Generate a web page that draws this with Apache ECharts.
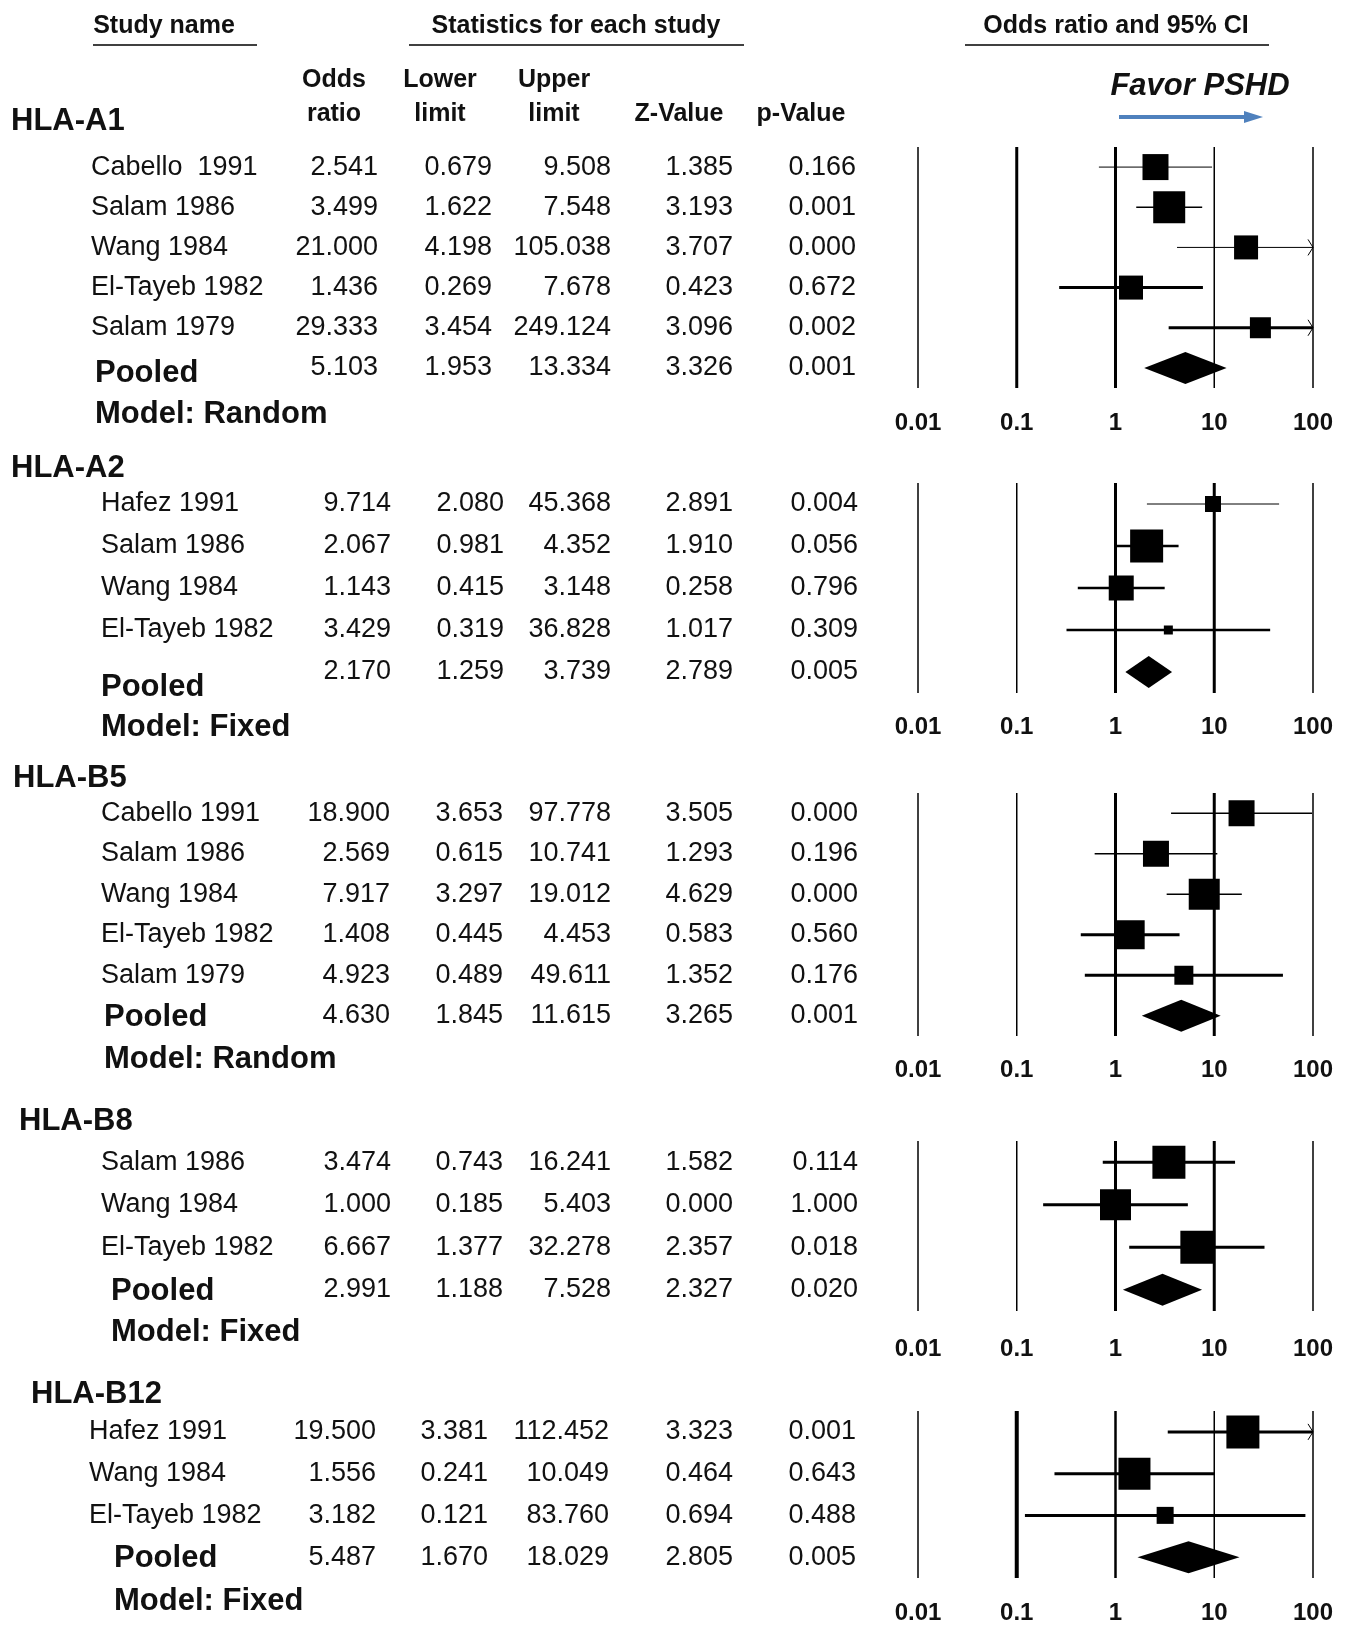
<!DOCTYPE html>
<html><head><meta charset="utf-8">
<script src="https://cdn.jsdelivr.net/npm/echarts@6/dist/echarts.min.js"></script>
<style>html,body{margin:0;padding:0;background:#fff}#c{width:1348px;height:1625px}</style>
</head><body><div id="c"></div>
<script>
// ---------------- DATA ----------------
const groupNames = ['HLA-A1', 'HLA-A2', 'HLA-B5', 'HLA-B8', 'HLA-B12'];
const modelNames = ['Model: Random', 'Model: Fixed', 'Model: Random', 'Model: Fixed', 'Model: Fixed'];

const studiesA1 = ['Cabello  1991', 'Salam 1986', 'Wang 1984', 'El-Tayeb 1982', 'Salam 1979'];
const orA1 = [2.541, 3.499, 21.000, 1.436, 29.333];
const loA1 = [0.679, 1.622, 4.198, 0.269, 3.454];
const hiA1 = [9.508, 7.548, 105.038, 7.678, 249.124];
const zA1  = [1.385, 3.193, 3.707, 0.423, 3.096];
const pA1  = [0.166, 0.001, 0.000, 0.672, 0.002];

const studiesA2 = ['Hafez 1991', 'Salam 1986', 'Wang 1984', 'El-Tayeb 1982'];
const orA2 = [9.714, 2.067, 1.143, 3.429];
const loA2 = [2.080, 0.981, 0.415, 0.319];
const hiA2 = [45.368, 4.352, 3.148, 36.828];
const zA2  = [2.891, 1.910, 0.258, 1.017];
const pA2  = [0.004, 0.056, 0.796, 0.309];

const studiesB5 = ['Cabello 1991', 'Salam 1986', 'Wang 1984', 'El-Tayeb 1982', 'Salam 1979'];
const orB5 = [18.900, 2.569, 7.917, 1.408, 4.923];
const loB5 = [3.653, 0.615, 3.297, 0.445, 0.489];
const hiB5 = [97.778, 10.741, 19.012, 4.453, 49.611];
const zB5  = [3.505, 1.293, 4.629, 0.583, 1.352];
const pB5  = [0.000, 0.196, 0.000, 0.560, 0.176];

const studiesB8 = ['Salam 1986', 'Wang 1984', 'El-Tayeb 1982'];
const orB8 = [3.474, 1.000, 6.667];
const loB8 = [0.743, 0.185, 1.377];
const hiB8 = [16.241, 5.403, 32.278];
const zB8  = [1.582, 0.000, 2.357];
const pB8  = [0.114, 1.000, 0.018];

const studiesB12 = ['Hafez 1991', 'Wang 1984', 'El-Tayeb 1982'];
const orB12 = [19.500, 1.556, 3.182];
const loB12 = [3.381, 0.241, 0.121];
const hiB12 = [112.452, 10.049, 83.760];
const zB12  = [3.323, 0.464, 0.694];
const pB12  = [0.001, 0.643, 0.488];

const pooledOR = [5.103, 2.170, 4.630, 2.991, 5.487];
const pooledLo = [1.953, 1.259, 1.845, 1.188, 1.670];
const pooledHi = [13.334, 3.739, 11.615, 7.528, 18.029];
const pooledZ  = [3.326, 2.789, 3.265, 2.327, 2.805];
const pooledP  = [0.001, 0.005, 0.001, 0.020, 0.005];

const tickValues = [0.01, 0.1, 1, 10, 100];
const tickLabels = ['0.01', '0.1', '1', '10', '100'];

// ---------------- LAYOUT / STYLE ----------------
const FONT = '"Liberation Sans", Arial, Helvetica, sans-serif';
const panels = [
  {names: studiesA1, or: orA1, lo: loA1, hi: hiA1, z: zA1, p: pA1},
  {names: studiesA2, or: orA2, lo: loA2, hi: hiA2, z: zA2, p: pA2},
  {names: studiesB5, or: orB5, lo: loB5, hi: hiB5, z: zB5, p: pB5},
  {names: studiesB8, or: orB8, lo: loB8, hi: hiB8, z: zB8, p: pB8},
  {names: studiesB12, or: orB12, lo: loB12, hi: hiB12, z: zB12, p: pB12}
];
const layout = [
  {top:147, bottom:388, nameX:91, cols:[378,492,611,733,856], pooledX:95, pooledDy:6, modelY:414, groupX:11, groupY:121, margin:23,
   vW:[1.5,3,3,1.5,1.5], sq:[26,32,24,24,21], lw:[1,1.5,1,3,3]},
  {top:483, bottom:693, nameX:101, cols:[391,504,611,733,858], pooledX:101, pooledDy:15, modelY:727, groupX:11, groupY:468, margin:22,
   vW:[1.5,1.5,3,3,1.5], sq:[16,33,25,9], lw:[1,2.5,2.5,2.5]},
  {top:793, bottom:1036, nameX:101, cols:[390,503,611,733,858], pooledX:104, pooledDy:2, modelY:1059, groupX:13, groupY:778, margin:22,
   vW:[1.5,1.5,3,3,1.5], sq:[26,26,31,29,19], lw:[1.5,1.5,1.5,3,3]},
  {top:1141, bottom:1311, nameX:101, cols:[391,503,611,733,858], pooledX:111, pooledDy:2, modelY:1332, groupX:19, groupY:1121, margin:26,
   vW:[1.5,1.5,3,3,1.5], sq:[33,31,33], lw:[3,3,3]},
  {top:1411, bottom:1579, nameX:89, cols:[376,488,609,733,856], pooledX:114, pooledDy:1, modelY:1601, groupX:31, groupY:1394, margin:23,
   vW:[1.5,4,2.5,1.5,1.5], sq:[33,32,17], lw:[3,3,3]}
];
const DIAMOND_H = 32;
const TEXT_COLOR = '#111';
const DATA_FONT = '27px ' + FONT;
const BIG_BOLD = 'bold 31px ' + FONT;

function fmt(v) { return v.toFixed(3); }
function tickLabel(v) {
  for (let k = 0; k < tickValues.length; k++) {
    if (Math.abs(Math.log10(v) - Math.log10(tickValues[k])) < 1e-6) return tickLabels[k];
  }
  return '';
}

const chart = echarts.init(document.getElementById('c'), null, {renderer: 'canvas'});

const grids = [], xAxes = [], yAxes = [], series = [], graphics = [];

panels.forEach((P, pi) => {
  const L = layout[pi];
  const n = P.names.length;
  grids.push({left: 918, width: 395, top: L.top, height: L.bottom - L.top, containLabel: false});
  xAxes.push({
    gridIndex: pi, type: 'log', logBase: 10, min: 0.01, max: 100,
    axisLine: {show: false}, axisTick: {show: false}, splitLine: {show: false},
    axisLabel: {show: true, margin: L.margin, fontSize: 24, fontWeight: 'bold', fontFamily: FONT, color: TEXT_COLOR,
      showMinLabel: true, showMaxLabel: true, formatter: tickLabel}
  });
  yAxes.push({gridIndex: pi, type: 'value', min: -0.5, max: n + 0.5, inverse: true, show: false});

  // vertical reference lines at the tick values
  series.push({
    type: 'custom', xAxisIndex: pi, yAxisIndex: pi, clip: false, silent: true, animation: false,
    encode: {x: 0, y: 1},
    data: tickValues.map(v => [v, 0]),
    renderItem: function (params, api) {
      const v = api.value(0);
      const a = api.coord([v, -0.5]);
      const b = api.coord([v, n + 0.5]);
      return {type: 'line', shape: {x1: a[0], y1: a[1], x2: b[0], y2: b[1]},
        style: {stroke: '#000', lineWidth: L.vW[params.dataIndex]}};
    }
  });

  // studies + pooled
  const rows = [];
  for (let i = 0; i <= n; i++) rows.push([i < n ? P.or[i] : pooledOR[pi], i]);
  series.push({
    type: 'custom', xAxisIndex: pi, yAxisIndex: pi, clip: false, silent: true, animation: false,
    encode: {x: 0, y: 1},
    data: rows,
    renderItem: function (params, api) {
      const i = params.dataIndex;
      const pooled = i === n;
      const or = pooled ? pooledOR[pi] : P.or[i];
      const lo = pooled ? pooledLo[pi] : P.lo[i];
      const hi = pooled ? pooledHi[pi] : P.hi[i];
      const z = pooled ? pooledZ[pi] : P.z[i];
      const p = pooled ? pooledP[pi] : P.p[i];
      const y = api.coord([1, i])[1];
      const xOr = api.coord([or, i])[0];
      const xLo = api.coord([Math.max(lo, 0.01), i])[0];
      const xHi = api.coord([Math.min(hi, 100), i])[0];
      const ch = [];
      if (pooled) {
        const h = DIAMOND_H / 2;
        ch.push({type: 'polygon', shape: {points: [[xLo, y], [xOr, y - h], [xHi, y], [xOr, y + h]]}, style: {fill: '#000'}});
        ch.push({type: 'text', x: L.pooledX, y: y + L.pooledDy,
          style: {text: 'Pooled', font: BIG_BOLD, fill: TEXT_COLOR, textAlign: 'left', textVerticalAlign: 'middle'}});
      } else {
        ch.push({type: 'line', shape: {x1: xLo, y1: y, x2: xHi, y2: y}, style: {stroke: '#000', lineWidth: L.lw[i]}});
        if (hi > 100) {
          ch.push({type: 'polyline', shape: {points: [[xHi - 5, y - 8], [xHi, y], [xHi - 5, y + 8]]},
            style: {stroke: '#000', lineWidth: 1, fill: null}});
        }
        const s = L.sq[i];
        ch.push({type: 'rect', shape: {x: xOr - s / 2, y: y - s / 2, width: s, height: s}, style: {fill: '#000'}});
        ch.push({type: 'text', x: L.nameX, y: y,
          style: {text: P.names[i], font: DATA_FONT, fill: TEXT_COLOR, textAlign: 'left', textVerticalAlign: 'middle'}});
      }
      [or, lo, hi, z, p].forEach((v, k) => {
        ch.push({type: 'text', x: L.cols[k], y: y,
          style: {text: fmt(v), font: DATA_FONT, fill: TEXT_COLOR, textAlign: 'right', textVerticalAlign: 'middle'}});
      });
      return {type: 'group', children: ch};
    }
  });

  graphics.push({type: 'text', x: L.groupX, y: L.groupY,
    style: {text: groupNames[pi], font: BIG_BOLD, fill: TEXT_COLOR, textAlign: 'left', textVerticalAlign: 'middle'}});
  graphics.push({type: 'text', x: L.pooledX, y: L.modelY,
    style: {text: modelNames[pi], font: BIG_BOLD, fill: TEXT_COLOR, textAlign: 'left', textVerticalAlign: 'middle'}});
});

// headers
function hText(t, x, y) {
  graphics.push({type: 'text', x: x, y: y,
    style: {text: t, font: 'bold 25px ' + FONT, fill: TEXT_COLOR, textAlign: 'center', textVerticalAlign: 'middle'}});
}
function hLine(x1, x2, y) {
  graphics.push({type: 'line', shape: {x1: x1, y1: y, x2: x2, y2: y}, style: {stroke: '#000', lineWidth: 1.5}});
}
hText('Study name', 164, 26); hLine(93, 257, 45);
hText('Statistics for each study', 576, 26); hLine(409, 744, 45);
hText('Odds ratio and 95% CI', 1116, 26); hLine(965, 1269, 45);
hText('Odds', 334, 80); hText('ratio', 334, 114);
hText('Lower', 440, 80); hText('limit', 440, 114);
hText('Upper', 554, 80); hText('limit', 554, 114);
hText('Z-Value', 679, 114);
hText('p-Value', 801, 114);

graphics.push({type: 'text', x: 1200, y: 86,
  style: {text: 'Favor PSHD', font: 'italic bold 31px ' + FONT, fill: TEXT_COLOR, textAlign: 'center', textVerticalAlign: 'middle'}});
graphics.push({type: 'line', shape: {x1: 1119, y1: 117, x2: 1248, y2: 117}, style: {stroke: '#4f81bd', lineWidth: 4}});
graphics.push({type: 'polygon', shape: {points: [[1244, 111], [1263, 117], [1244, 123]]}, style: {fill: '#4f81bd'}});

chart.setOption({
  backgroundColor: '#fff',
  animation: false,
  grid: grids,
  xAxis: xAxes,
  yAxis: yAxes,
  series: series,
  graphic: {elements: graphics}
});
</script>
</body></html>
